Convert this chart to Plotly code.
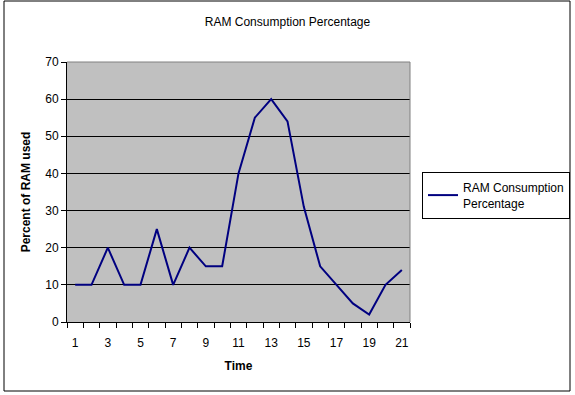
import plotly.graph_objects as go

time_points = list(range(1, 22))
ram_pct = [10, 10, 20, 10, 10, 25, 10, 20, 15, 15, 40, 55, 60, 54, 31, 15, 10, 5, 2, 10, 14]
x_tick_labels = [1, 3, 5, 7, 9, 11, 13, 15, 17, 19, 21]
y_ticks = [0, 10, 20, 30, 40, 50, 60, 70]

W, H = 575, 395
L, R, T, B = 67, 165, 62, 73
pw, ph = W - L - R, H - T - B

def px(x):
    return (x - L) / pw

def py(y):
    return (H - B - y) / ph

font = "Liberation Sans, Arial, sans-serif"

fig = go.Figure()
fig.add_trace(go.Scatter(
    x=time_points, y=ram_pct, mode="lines",
    name="RAM Consumption<br>Percentage",
    line=dict(color="#000080", width=2),
))

fig.update_layout(
    width=W, height=H,
    margin=dict(l=L, r=R, t=T, b=B, autoexpand=False),
    paper_bgcolor="white",
    plot_bgcolor="#C0C0C0",
    font=dict(family=font, size=12, color="black"),
    title=dict(text="RAM Consumption Percentage", x=0.5, xanchor="center",
               y=1 - 22 / H, yanchor="middle", font=dict(size=12)),
    showlegend=True,
    legend=dict(x=px(422), y=py(172), xanchor="left", yanchor="top",
                bordercolor="black", borderwidth=1, bgcolor="white",
                font=dict(size=12), tracegroupgap=0, itemwidth=30),
    xaxis=dict(
        range=[0.5, 21.5], tickmode="array", tickvals=x_tick_labels,
        ticktext=[str(v) for v in x_tick_labels], ticks="", showgrid=False,
        showline=True, linecolor="black", linewidth=1, zeroline=False,
        ticklabelstandoff=10, automargin=False,
        minor=dict(tickmode="linear", tick0=0.5, dtick=1, ticks="outside",
                   ticklen=5, tickcolor="black", showgrid=False),
        title=dict(text="<b>Time</b>", standoff=12, font=dict(size=12)),
        fixedrange=True,
    ),
    yaxis=dict(
        range=[0, 70], tickmode="array", tickvals=y_ticks,
        ticks="outside", ticklen=5, tickcolor="black",
        showgrid=True, gridcolor="black", gridwidth=1,
        showline=True, linecolor="black", linewidth=1, zeroline=False,
        automargin=False,
        title=dict(text="<b>Percent of RAM used</b>", standoff=12, font=dict(size=12)),
        fixedrange=True,
    ),
)

# gray border of plot area (top/right) and outer chart frame
fig.add_shape(type="line", xref="paper", yref="paper", x0=0, x1=1, y0=1, y1=1,
              line=dict(color="#808080", width=1), layer="above")
fig.add_shape(type="line", xref="paper", yref="paper", x0=1, x1=1, y0=0, y1=1,
              line=dict(color="#808080", width=1), layer="above")
fig.add_shape(type="rect", xref="paper", yref="paper",
              x0=px(4), x1=px(570), y0=py(391), y1=py(1),
              line=dict(color="black", width=1), layer="above")

fig.write_html("out.html", config={"displayModeBar": False},
               post_script="document.body.style.margin='0';")
